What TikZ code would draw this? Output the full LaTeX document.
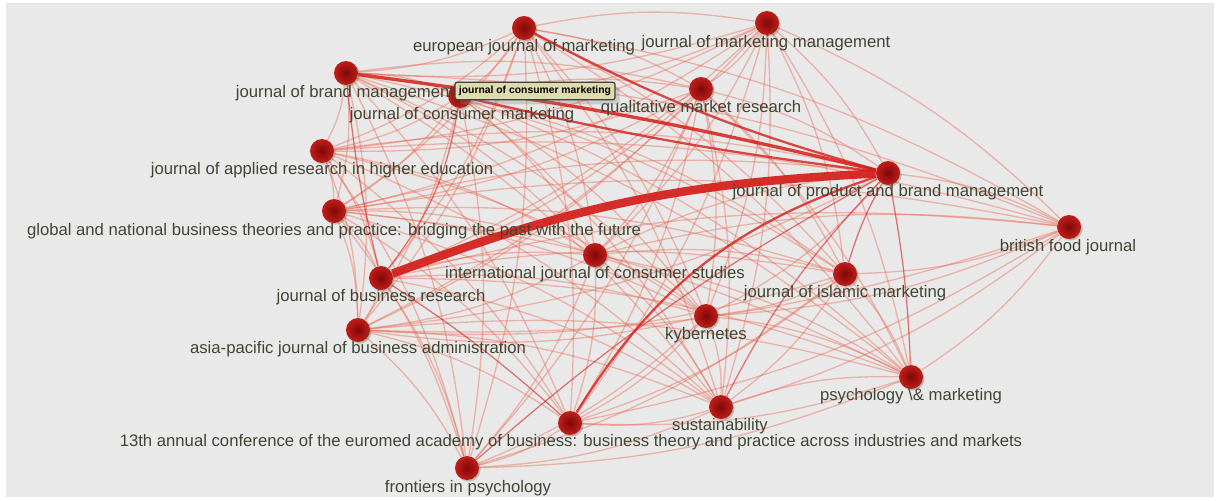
\documentclass[tikz,border=0pt]{standalone}
\usepackage{fontspec}
\setmainfont{Liberation Sans}
\usetikzlibrary{backgrounds,shadows}

\definecolor{bgrey}{RGB}{233,233,233}
\definecolor{edgered}{RGB}{234,100,78}
\definecolor{deepred}{RGB}{212,30,25}
\definecolor{ballred}{RGB}{192,30,26}
\definecolor{balldark}{RGB}{128,8,8}
\definecolor{labelgrey}{RGB}{64,70,52}
\definecolor{tipfill}{RGB}{222,220,172}

\begin{document}
\begin{tikzpicture}[x=0.02cm, y=-0.02cm,
  journal/.style={circle, minimum size=0.48cm, inner sep=0pt, shading=radial, inner color=balldark, outer color=ballred,
    circular drop shadow={fill=olive!50!black, opacity=0.35, shadow xshift=0.7pt, shadow yshift=-0.7pt, shadow scale=1.05}},
  lbl/.style={text=labelgrey, font=\fontsize{9.5}{11}\selectfont, inner sep=0pt, text height=1.6ex, text depth=0.3ex},
  link/.style={draw=edgered, line width=0.75pt, draw opacity=0.42, bend left=10},
  darklink/.style={draw=deepred, line width=0.7pt, draw opacity=0.6},
  midlink/.style={draw=deepred, line width=1.3pt, draw opacity=0.8},
  boldlink/.style={draw=deepred, line width=1.9pt, draw opacity=0.85},
  heavylink/.style={draw=deepred, line width=4.8pt, draw opacity=0.92},
  tip/.style={fill=tipfill, draw=black!75, line width=0.7pt, rounded corners=1.2pt, inner sep=2.2pt,
    font=\fontsize{5.9}{6.5}\selectfont\bfseries, drop shadow={opacity=0.3}}]
\useasboundingbox (0,0) rectangle (1219,500);

% journals
\node[journal] (ejm) at (524,28) {};
\node[journal] (jmm) at (767,23) {};
\node[journal] (jbm) at (346,73) {};
\node[journal] (jcm) at (460,96) {};
\node[journal] (qmr) at (701,89) {};
\node[journal] (jarhe) at (322,151) {};
\node[journal] (gnbt) at (334,211) {};
\node[journal] (jbr) at (381,278) {};
\node[journal] (ijcs) at (595,255) {};
\node[journal] (jpbm) at (888,173) {};
\node[journal] (bfj) at (1069,227) {};
\node[journal] (jim) at (845,274) {};
\node[journal] (kyb) at (706,316) {};
\node[journal] (apjba) at (358,330) {};
\node[journal] (sus) at (721,407) {};
\node[journal] (pm) at (911,377) {};
\node[journal] (emab) at (570,423) {};
\node[journal] (fip) at (467,468) {};

% labels
\node[lbl] (ejm-t) at (524,45) {european journal of marketing};
\node[lbl] (jmm-t) at (766,41) {journal of marketing management};
\node[lbl] (jbm-t) at (345,91) {journal of brand management};
\node[lbl] (jcm-t) at (462,113) {journal of consumer marketing};
\node[lbl] (qmr-t) at (701,106) {qualitative market research};
\node[lbl] (jarhe-t) at (322,168) {journal of applied research in higher education};
\node[lbl] (gnbt-t) at (334,229) {global and national business theories and practice: bridging the past with the future};
\node[lbl] (jbr-t) at (381,295) {journal of business research};
\node[lbl] (ijcs-t) at (595,272) {international journal of consumer studies};
\node[lbl] (jpbm-t) at (888,190) {journal of product and brand management};
\node[lbl] (bfj-t) at (1068,245) {british food journal};
\node[lbl] (jim-t) at (845,291) {journal of islamic marketing};
\node[lbl] (kyb-t) at (706,333) {kybernetes};
\node[lbl] (apjba-t) at (358,347) {asia-pacific journal of business administration};
\node[lbl] (sus-t) at (720,424) {sustainability};
\node[lbl] (pm-t) at (911,394) {psychology \textbackslash\& marketing};
\node[lbl] (emab-t) at (571,440) {13th annual conference of the euromed academy of business: business theory and practice across industries and markets};
\node[lbl] (fip-t) at (468,486) {frontiers in psychology};

\node[tip] (tipbox) at (535,91) {journal of consumer marketing};

\begin{scope}[on background layer]
\fill[white] (0,0) rectangle (1219,500);
\fill[bgrey] (6,3) rectangle (1214,497);
\path[link]
  (ejm) edge (jmm) edge (jbm) edge (jcm) edge (qmr) edge (jarhe) edge (gnbt) edge (jbr) edge (ijcs) edge (jim) edge (kyb) edge (apjba) edge (sus) edge (pm) edge (emab) edge (fip) edge (bfj)
  (jmm) edge (jbm) edge (jcm) edge (qmr) edge (jarhe) edge (gnbt) edge (jbr) edge (ijcs) edge (jpbm) edge (bfj) edge (jim) edge (kyb) edge (apjba) edge (sus) edge (pm) edge (emab)
  (jbm) edge (jcm) edge (qmr) edge (jarhe) edge (gnbt) edge (ijcs) edge (jim) edge (kyb) edge (apjba) edge (sus) edge (pm) edge (emab) edge (fip) edge (bfj)
  (jcm) edge (qmr) edge (jarhe) edge (gnbt) edge (ijcs) edge (jim) edge (kyb) edge (apjba) edge (sus) edge (pm) edge (fip)
  (qmr) edge (jarhe) edge (gnbt) edge (jbr) edge (ijcs) edge (jpbm) edge (jim) edge (kyb) edge (apjba) edge (sus) edge (pm) edge (emab) edge (fip)
  (jarhe) edge (gnbt) edge (jbr) edge (ijcs) edge (jpbm) edge (bfj) edge (kyb) edge (apjba) edge (sus) edge (emab) edge (fip)
  (gnbt) edge (jbr) edge (ijcs) edge (jpbm) edge (bfj) edge (jim) edge (kyb) edge (apjba) edge (sus) edge (pm) edge (emab) edge (fip)
  (jbr) edge (ijcs) edge (bfj) edge (jim) edge (kyb) edge (apjba) edge (sus) edge (pm) edge (fip)
  (ijcs) edge (jpbm) edge (bfj) edge (jim) edge (kyb) edge (apjba) edge (sus) edge (pm) edge (emab) edge (fip)
  (jpbm) edge (bfj) edge (kyb) edge (apjba)
  (bfj) edge (jim) edge (kyb) edge (sus) edge (pm) edge (apjba) edge (emab)
  (jim) edge (kyb) edge (apjba) edge (sus) edge (pm) edge (emab) edge (fip)
  (kyb) edge (apjba) edge (sus) edge (pm) edge (emab) edge (fip)
  (apjba) edge (sus) edge (pm) edge (emab) edge (fip)
  (sus) edge (pm) edge (emab) edge (fip)
  (pm) edge (emab) edge (fip)
  (emab) edge (fip);
\path[darklink] (jbm) edge[bend right=4] (jbr)
  (jcm) edge[bend left=14] (jbr)
  (jbr) edge[bend left=4] (emab)
  (jpbm) edge[bend right=6] (jim)
  (jpbm) edge[bend left=4] (pm)
  (jpbm) edge[bend right=8] (sus)
  (fip) edge[bend left=6] (jpbm);
\path[midlink] (ejm) edge[bend right=6] (jpbm)
  (jcm) edge[bend right=3] (jpbm)
  (emab) edge[bend left=20] (jpbm);
\path[boldlink] (jbm) edge[bend left=3] (jpbm);
\path[heavylink] (jbr) edge[bend left=9] (jpbm);
\end{scope}
\end{tikzpicture}
\end{document}
